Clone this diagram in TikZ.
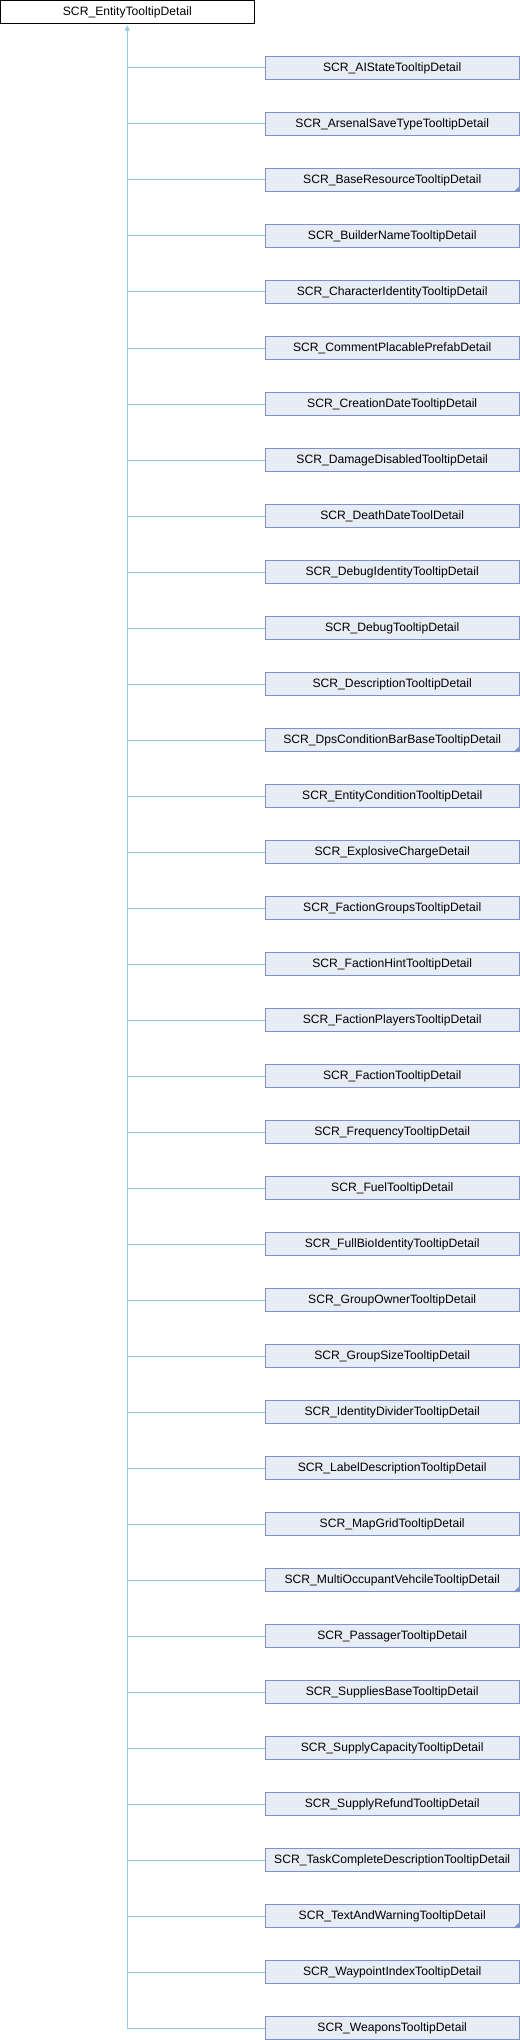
\documentclass[tikz,border=0pt]{standalone}
\usepackage{fontspec}
\setmainfont{Liberation Sans}
\usetikzlibrary{arrows.meta}
\definecolor{boxfill}{RGB}{232,236,245}
\definecolor{boxdraw}{RGB}{124,146,200}
\definecolor{edgec}{RGB}{152,200,234}
\begin{document}
\begin{tikzpicture}[x=0.75pt,y=-0.75pt,
  cls/.style={draw=boxdraw,fill=boxfill,line width=0.75pt,minimum width=190.5pt,minimum height=17.25pt,inner sep=0pt,font=\fontsize{9.1pt}{11pt}\selectfont},
  basecls/.style={draw=black,fill=white,line width=0.75pt,minimum width=190.5pt,minimum height=17.25pt,inner sep=0pt,font=\fontsize{9.1pt}{11pt}\selectfont},
  edge/.style={draw=edgec,line width=0.75pt}]
\useasboundingbox (0,0) rectangle (520,2040);
\node[basecls] (top) at (127.3,11.9) {SCR\_EntityTooltipDetail};
\foreach \nm [count=\i from 0] in {AIStateTooltipDetail,ArsenalSaveTypeTooltipDetail,BaseResourceTooltipDetail,BuilderNameTooltipDetail,CharacterIdentityTooltipDetail,CommentPlacablePrefabDetail,CreationDateTooltipDetail,DamageDisabledTooltipDetail,DeathDateToolDetail,DebugIdentityTooltipDetail,DebugTooltipDetail,DescriptionTooltipDetail,DpsConditionBarBaseTooltipDetail,EntityConditionTooltipDetail,ExplosiveChargeDetail,FactionGroupsTooltipDetail,FactionHintTooltipDetail,FactionPlayersTooltipDetail,FactionTooltipDetail,FrequencyTooltipDetail,FuelTooltipDetail,FullBioIdentityTooltipDetail,GroupOwnerTooltipDetail,GroupSizeTooltipDetail,IdentityDividerTooltipDetail,LabelDescriptionTooltipDetail,MapGridTooltipDetail,MultiOccupantVehcileTooltipDetail,PassagerTooltipDetail,SuppliesBaseTooltipDetail,SupplyCapacityTooltipDetail,SupplyRefundTooltipDetail,TaskCompleteDescriptionTooltipDetail,TextAndWarningTooltipDetail,WaypointIndexTooltipDetail,WeaponsTooltipDetail}{
  \node[cls] (c\i) at (392.2,68+56*\i) {SCR\_\nm};
}
\coordinate (trunk) at (127.3,2028);
\draw[edge,{Triangle[length=4pt,width=4pt,fill=edgec]}-] (top.south) ++(0,1.5) -- (trunk);
\foreach \i in {0,...,35}{
  \draw[edge] (c\i.west) -- (c\i.west -| top.south);
}
\foreach \i in {2,12,27,33}{
  \fill[boxdraw] (c\i.south east) -- ++(-6,0) -- ++(6,-6) -- cycle;
}
\end{tikzpicture}
\end{document}
